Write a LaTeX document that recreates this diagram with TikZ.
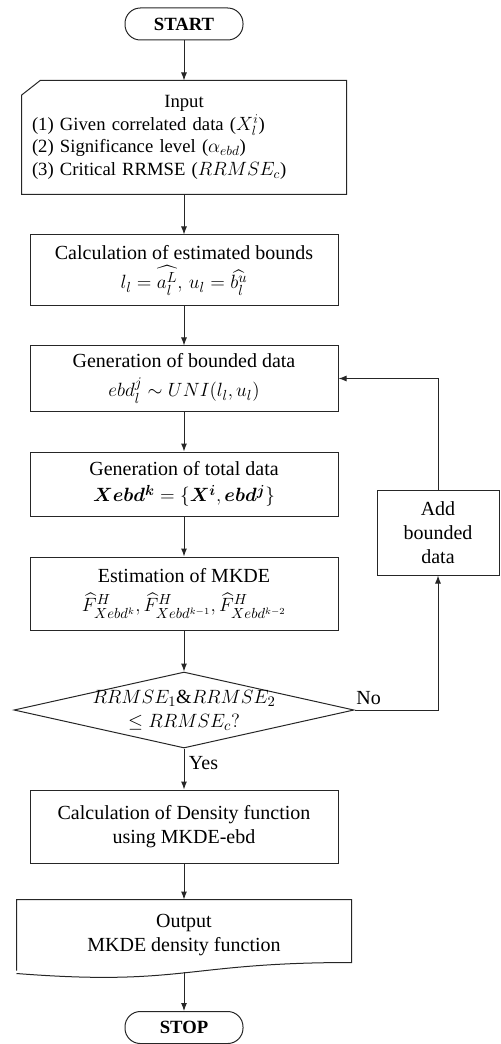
\documentclass[tikz,border=0pt]{standalone}
\usepackage{amsmath,amssymb}
\usepackage{bm}
\usepackage{fontspec}
\setmainfont{Liberation Serif}
\usetikzlibrary{arrows.meta,shapes.geometric,calc}

\begin{document}
\begin{tikzpicture}[x=0.75pt, y=-0.75pt, line width=0.75pt, draw=black!85,
  every node/.style={font=\fontsize{15}{18}\selectfont},
  procbox/.style={draw, rectangle, minimum width=231pt, align=center, inner sep=2pt},
  termbox/.style={draw, rounded corners=11.5pt, minimum width=88.5pt, minimum height=24pt,
    font=\fontsize{14}{17}\selectfont\bfseries},
  decbox/.style={draw, diamond, aspect=4.47, minimum width=255pt, minimum height=57pt,
    inner xsep=-10pt, inner ysep=0pt, align=center},
  flow/.style={-{Latex[length=6pt,width=4.5pt]}}]
  \useasboundingbox (0,0) rectangle (500,1044);
  \node[termbox] (start) at (184,24) {START};
  % manual input shape, drawn round the node
  \node[minimum height=84.75pt, text width=228pt, inner xsep=7.5pt, inner ysep=0pt,
    align=left, font=\fontsize{14}{17}\selectfont] (inp) at (184,137.5) {%
    \makebox[228pt]{Input}\\
    (1) Given correlated data ($X_l^i$)\\
    (2) Significance level ($\alpha_{ebd}$)\\
    (3) Critical RRMSE ($RRMSE_c$)};
  \draw (inp.south west) -- (inp.south east) -- (inp.north east)
    -- ([xshift=14pt]inp.north west) -- ([yshift=-11pt]inp.north west) -- cycle;
  \node[procbox, minimum height=53.25pt] (bounds) at (184,270.5)
    {Calculation of estimated bounds\\[4pt] $l_l=\widehat{a_l^L},\,u_l=\widehat{b_l^u}$};
  \node[procbox, minimum height=48.75pt] (genb) at (184,378.5)
    {Generation of bounded data\\[4pt] $ebd_l^j\sim UNI(l_l,u_l)$};
  \node[procbox, minimum height=48pt] (gent) at (184,484)
    {Generation of total data\\[2pt] $\bm{Xebd}^{\bm{k}}=\{\bm{X}^{\bm{i}},\bm{ebd}^{\bm{j}}\}$};
  \node[procbox, minimum height=54.75pt] (mkde) at (184,593.5)
    {Estimation of MKDE\\[4pt] $\widehat{F}^H_{Xebd^k},\widehat{F}^H_{Xebd^{k-1}},\widehat{F}^H_{Xebd^{k-2}}$};
  \node[decbox] (check) at (184,710) {$RRMSE_1\&RRMSE_2$\\ $\le RRMSE_c?$};
  \node[procbox, minimum height=54.75pt] (dens) at (184,826.5)
    {Calculation of Density function\\ using MKDE-ebd};
  % document shape with wavy bottom
  \node[minimum width=250.5pt, minimum height=52.5pt, inner sep=0pt, align=center] (out) at (184,935)
    {Output\\ MKDE density function};
  \draw (out.south west) -- (out.north west) -- (out.north east) -- ([yshift=6pt]out.south east)
    .. controls ($(out.south)+(0,6pt)$) and ($(out.south)+(0,-12pt)$) .. ([yshift=-2.25pt]out.south west);
  \coordinate (outb) at (184,972);
  \node[termbox] (stop) at (184,1027.5) {STOP};
  \node[procbox, minimum width=91.5pt, minimum height=63.75pt] (add) at (438,532.5)
    {Add\\ bounded\\ data};

  \draw[flow] (start) -- (inp.north);
  \draw[flow] (inp.south) -- (bounds);
  \draw[flow] (bounds) -- (genb);
  \draw[flow] (genb) -- (gent);
  \draw[flow] (gent) -- (mkde);
  \draw[flow] (mkde) -- (check);
  \draw[flow] (check) -- node[right, pos=0.36] {Yes} (dens);
  \draw[flow] (dens) -- (out.north);
  \draw[flow] (outb) -- (stop);
  % loop back
  \draw[flow] (check.east) -- node[above, pos=0.17] {No} (check.east -| add.south) -- (add.south);
  \draw[flow] (add.north) -- (add.north |- genb.east) -- (genb.east);
\end{tikzpicture}
\end{document}
